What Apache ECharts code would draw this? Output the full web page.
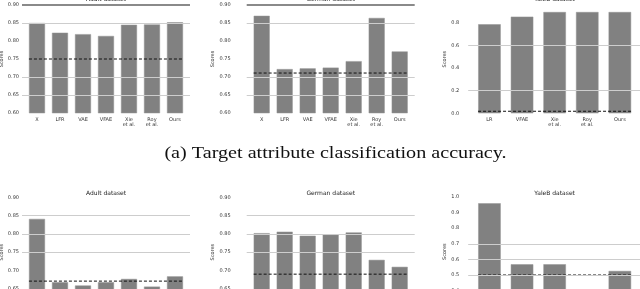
<!DOCTYPE html>
<html><head><meta charset="utf-8">
<script src="https://cdn.jsdelivr.net/npm/echarts@6/dist/echarts.min.js"></script>
<style>html,body{margin:0;padding:0;background:#fff}#c{width:640px;height:289px}</style>
</head><body><div id="c"></div>
<script>
// ---- data ----
const catsAB = ['X', 'LFR', 'VAE', 'VFAE', 'Xie\net al.', 'Roy\net al.', 'Ours'];
const catsYale = ['LR', 'VFAE', 'Xie\net al.', 'Roy\net al.', 'Ours'];

const adultTarget = [0.850, 0.823, 0.819, 0.814, 0.845, 0.846, 0.852];
const adultTargetBase = 0.75;
const germanTarget = [0.870, 0.722, 0.724, 0.726, 0.744, 0.864, 0.771];
const germanTargetBase = 0.711;
const yaleTarget = [0.786, 0.853, 0.894, 0.894, 0.894];
const yaleTargetBase = 0.018;

const adultSens = [0.841, 0.668, 0.659, 0.668, 0.677, 0.656, 0.684];
const adultSensBase = 0.671;
const germanSens = [0.802, 0.806, 0.795, 0.798, 0.804, 0.729, 0.710];
const germanSensBase = 0.690;
const yaleSens = [0.96, 0.569, 0.569, 0.38, 0.526];
const yaleSensBase = 0.50;

const titles = ['Adult dataset', 'German dataset', 'YaleB dataset'];
const yName = 'Scores';
const caption = '(a) Target attribute classification accuracy.';

// axis tick settings (min, max, interval, decimals)
const accTicks = [0.60, 0.90, 0.05, 2];
const yaleTopTicks = [0.0, 0.956, 0.2, 1];
const yaleBotTicks = [0.3, 1.0, 0.1, 1];
const gridAdultTop = [0.85, 0.70, 0.65];
const gridYaleTop = [0.6, 0.2];
const gridBottomAB = [0.85, 0.80, 0.75];
const gridYaleBot = [0.7, 0.6, 0.5];

// ---- layout ----
const PAD = 0.652;
const panels = [
  {cats: catsAB, vals: adultTarget, base: adultTargetBase, ticks: accTicks, grid: gridAdultTop, thick: true,
   left: 22, unit: 23, barW: 16, top: 5, height: 108, title: titles[0], titleY: -1, labMargin: 2, nameGap: 16},
  {cats: catsAB, vals: germanTarget, base: germanTargetBase, ticks: accTicks, grid: gridAdultTop, thick: true,
   left: 246.7, unit: 23, barW: 16, top: 5, height: 108, title: titles[1], titleY: -1, labMargin: 15, nameGap: 27},
  {cats: catsYale, vals: yaleTarget, base: yaleTargetBase, ticks: yaleTopTicks, grid: gridYaleTop, thick: true,
   left: 468.2, unit: 32.6, barW: 22.5, top: 5, height: 108.3, title: titles[2], titleY: -1, labMargin: 8, nameGap: 15, noMax: true},
  {cats: catsAB, vals: adultSens, base: adultSensBase, ticks: accTicks, grid: gridBottomAB, thick: false,
   left: 22, unit: 23, barW: 16, top: 197.3, height: 109.8, title: titles[0], titleY: 193, labMargin: 2, nameGap: 16},
  {cats: catsAB, vals: germanSens, base: germanSensBase, ticks: accTicks, grid: gridBottomAB, thick: false,
   left: 246.7, unit: 23, barW: 16, top: 197.3, height: 109.8, title: titles[1], titleY: 193, labMargin: 15, nameGap: 27},
  {cats: catsYale, vals: yaleSens, base: yaleSensBase, ticks: yaleBotTicks, grid: gridYaleBot, thick: false,
   left: 468.2, unit: 32.6, barW: 22.5, top: 197, height: 109.2, title: titles[2], titleY: 193, labMargin: 8, nameGap: 15}
];

const SMALL = 'DejaVu Sans';
const grids = [], xAxes = [], yAxes = [], series = [], graphics = [];
panels.forEach((p, k) => {
  const n = p.cats.length;
  const width = p.unit * (n - 1 + 2 * PAD);
  grids.push({left: p.left, top: p.top, width: width, height: p.height,
    containLabel: false, outerBoundsMode: 'none'});
  xAxes.push({
    gridIndex: k, type: 'value', min: -PAD, max: n - 1 + PAD,
    axisLine: {show: false}, axisTick: {show: false}, splitLine: {show: false},
    axisLabel: {
      customValues: p.cats.map((c, i) => i),
      formatter: v => p.cats[Math.round(v)],
      fontSize: 5, lineHeight: 5.5, margin: 3.5, color: '#333', fontFamily: SMALL
    }
  });
  const [mn, mx, iv, dec] = p.ticks;
  yAxes.push({
    gridIndex: k, type: 'value', min: mn, max: mx, interval: iv,
    axisLine: {show: false},
    axisTick: {show: true, customValues: p.grid, length: 2, lineStyle: {color: '#666', width: 0.6}},
    splitLine: {show: false},
    axisLabel: {fontSize: 5, margin: p.labMargin + 1, color: '#333', fontFamily: SMALL,
      showMaxLabel: !p.noMax, formatter: v => v.toFixed(dec)},
    name: yName, nameLocation: 'middle', nameGap: p.nameGap, nameRotate: 90,
    nameTextStyle: {fontSize: 5, color: '#333', fontFamily: SMALL}
  });
  // gridlines (behind bars)
  const gl = p.grid.map(v => ({yAxis: v}));
  if (p.thick) gl.push({yAxis: mx, lineStyle: {color: '#8a8a8a', width: 1.8}});
  series.push({
    type: 'line', xAxisIndex: k, yAxisIndex: k, data: [], z: 1, silent: true,
    markLine: {silent: true, symbol: 'none', label: {show: false},
      lineStyle: {color: '#cdcdcd', width: 1, type: 'solid'}, data: gl}
  });
  series.push({
    type: 'bar', xAxisIndex: k, yAxisIndex: k, z: 2, barWidth: p.barW,
    data: p.vals.map((v, i) => [i, v]),
    itemStyle: {color: '#818181', borderColor: '#959595', borderWidth: 0.5}
  });
  series.push({
    type: 'line', xAxisIndex: k, yAxisIndex: k, z: 3, symbol: 'none', silent: true,
    data: [[-0.35, p.base], [n - 1 + 0.35, p.base]],
    lineStyle: {color: '#111', width: 1, type: [3, 2]}
  });
  graphics.push({type: 'text', x: p.left + width / 2, y: p.titleY,
    style: {text: p.title, align: 'center', verticalAlign: 'middle', font: '6px "DejaVu Sans"', fill: '#222'}});
});
graphics.push({type: 'text', x: 335.5, y: 153.5, scaleX: 1.26, originX: 0,
  style: {text: caption, align: 'center', verticalAlign: 'middle', font: '16px "Liberation Serif"', fill: '#111'}});

const chart = echarts.init(document.getElementById('c'), null, {renderer: 'canvas'});
chart.setOption({
  animation: false,
  backgroundColor: '#fff',
  grid: grids, xAxis: xAxes, yAxis: yAxes, series: series,
  graphic: graphics
});
</script></body></html>
